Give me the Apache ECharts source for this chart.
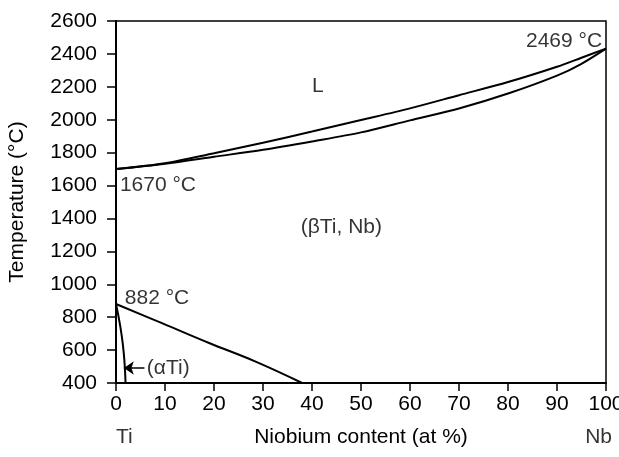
<!DOCTYPE html>
<html lang="en">
<head>
<meta charset="utf-8" />
<script src="https://cdn.jsdelivr.net/npm/echarts@6/dist/echarts.min.js"></script>
<title>Ti-Nb phase diagram</title>
<style>
  html, body { margin: 0; padding: 0; background: #fff; }
  #main { width: 619px; height: 457px; }
</style>
</head>
<body>
<div id="main"></div>
<script>
// liquidus / solidus (Nb at %, temperature)
var meltNb   = [0, 10, 20, 30, 40, 50, 60, 70, 80, 90, 95, 100];
var liquidus = [1700, 1735, 1796, 1860, 1928, 1998, 2069, 2149, 2229, 2322, 2377, 2432];
var solidus  = [1700, 1733, 1775, 1817, 1868, 1923, 1996, 2068, 2159, 2268, 2340, 2432];

// beta transus
var transusNb = [0, 9.5, 19, 28.5, 38];
var transusT  = [880, 762, 643, 530, 400];

// alpha Ti boundary
var alphaNb = [0, 0.9, 1.45, 1.75, 1.95];
var alphaT  = [880, 740, 620, 520, 400];

// text inside the plot
var labelText = ['L', '1670 °C', '(βTi, Nb)', '882 °C', '(αTi)', '2469 °C'];
var labelNb   = [41.2, 0.8, 46, 1.8, 6.3, 99.2];
var labelT    = [2205, 1603, 1348, 917, 491, 2475];

// arrow pointing at (aTi)
var arrowNb = [5.8, 1.6];
var arrowT  = 491;

// end members under the x axis
var endText = ['Ti', 'Nb'];
var endNb   = [0, 100];

var FONT = 'Liberation Sans, Arial, Helvetica, sans-serif';
var FS = 21;

function pairs(xs, ys) {
  return xs.map(function (x, i) { return [x, ys[i]]; });
}

var chart = echarts.init(document.getElementById('main'));

var curveStyle = { color: '#000', width: 2 };

// how each label sits on its anchor point
var posOf = { 'L': 'inside', '(βTi, Nb)': 'inside', '2469 °C': 'left' };

var textData = labelText.map(function (t, i) {
  return {
    value: [labelNb[i], labelT[i]],
    label: { formatter: t, position: posOf[t] || 'right', distance: 0, color: '#000' }
  };
});

var endData = endText.map(function (t, i) {
  return {
    value: [endNb[i], 400],
    label: {
      formatter: t,
      color: '#000',
      position: 'inside',
      align: i === 0 ? 'left' : 'right',
      offset: [i === 0 ? 0 : 6, 54]
    }
  };
});

var option = {
  animation: false,
  backgroundColor: '#fff',
  grid: {
    left: 116, right: 13, top: 21, bottom: 74,
    containLabel: false,
    outerBoundsMode: 'none',
    show: true,
    borderColor: '#000',
    borderWidth: 1.5,
    backgroundColor: 'transparent'
  },
  xAxis: {
    type: 'value',
    min: 0, max: 100, interval: 10,
    name: 'Niobium content (at %)',
    nameLocation: 'middle',
    nameGap: 44,
    nameTextStyle: { color: '#000', fontSize: FS, fontFamily: FONT },
    axisLine: { show: true, lineStyle: { color: '#000', width: 2 } },
    axisTick: { show: true, length: 8, lineStyle: { color: '#000', width: 1.5 } },
    axisLabel: { color: '#000', fontSize: FS, fontFamily: FONT, margin: 11 },
    splitLine: { show: false }
  },
  yAxis: {
    type: 'value',
    min: 400, max: 2600, interval: 200,
    name: 'Temperature (°C)',
    nameLocation: 'middle',
    nameRotate: 90,
    nameGap: 88,
    nameTextStyle: { color: '#000', fontSize: FS, fontFamily: FONT },
    axisLine: { show: true, lineStyle: { color: '#000', width: 2 } },
    axisTick: { show: true, length: 9, lineStyle: { color: '#000', width: 1.5 } },
    axisLabel: {
      color: '#000', fontSize: FS, fontFamily: FONT, margin: 19,
      formatter: function (v) { return String(v); }
    },
    splitLine: { show: false }
  },
  series: [
    { type: 'line', data: pairs(meltNb, liquidus), smooth: 0.3, symbol: 'none', lineStyle: curveStyle },
    { type: 'line', data: pairs(meltNb, solidus), smooth: 0.3, symbol: 'none', lineStyle: curveStyle },
    { type: 'line', data: pairs(transusNb, transusT), smooth: 0.4, symbol: 'none', lineStyle: curveStyle },
    { type: 'line', data: pairs(alphaNb, alphaT), smooth: 0.5, symbol: 'none', lineStyle: curveStyle },
    {
      type: 'line',
      data: [],
      markLine: {
        silent: true,
        symbol: ['none', 'arrow'],
        symbolSize: 10,
        label: { show: false },
        lineStyle: { color: '#000', width: 1.5, type: 'solid' },
        data: [[{ coord: [arrowNb[0], arrowT] }, { coord: [arrowNb[1], arrowT] }]]
      }
    },
    {
      type: 'scatter',
      symbolSize: 0,
      clip: false,
      data: textData,
      label: { show: true, color: '#000', fontSize: FS, fontFamily: FONT }
    },
    {
      type: 'scatter',
      symbolSize: 0,
      clip: false,
      data: endData,
      label: { show: true, color: '#000', fontSize: FS, fontFamily: FONT }
    }
  ]
};

chart.setOption(option);
</script>
</body>
</html>
